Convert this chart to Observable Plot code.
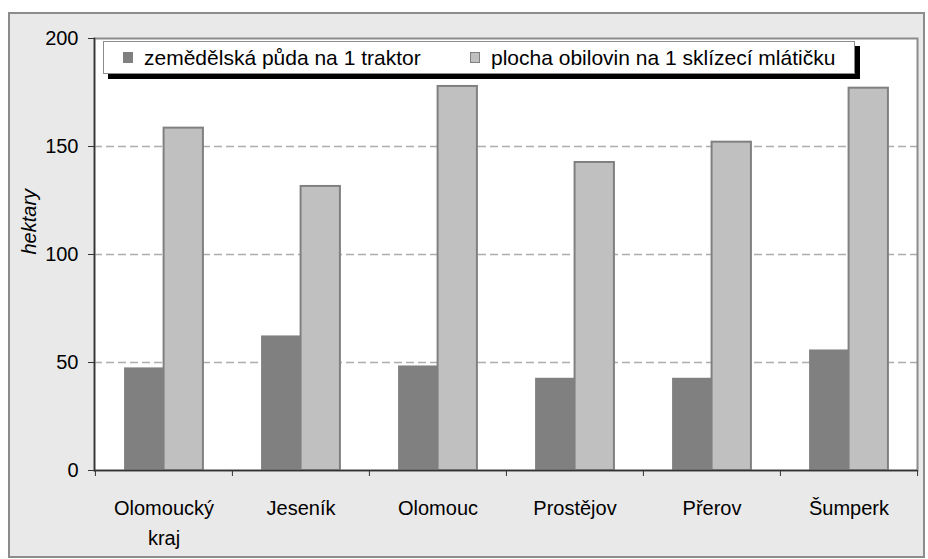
<!DOCTYPE html>
<html>
<head>
<meta charset="utf-8">
<script src="https://cdn.jsdelivr.net/npm/d3@7"></script>
<script src="https://cdn.jsdelivr.net/npm/@observablehq/plot@0.6"></script>
<style>
  html, body { margin: 0; padding: 0; background: #ffffff; }
  body { width: 928px; height: 559px; position: relative; overflow: hidden; font-family: "Liberation Sans", Arial, sans-serif; }
  #box { position: absolute; left: 8px; top: 12px; width: 917px; height: 546px; background: #e9e9e9; border: 2px solid #8c8c8c; box-sizing: border-box; }
  #chart { position: absolute; left: 0; top: 0; }
  #legend { position: absolute; left: 103px; top: 41px; width: 752px; height: 33px; box-sizing: border-box; background: #fff; border: 1px solid #8c8c8c; box-shadow: 5px 5px 0 #000; font-size: 21px; color: #000; }
  .item { position: absolute; top: 0; height: 31px; display: flex; align-items: center; white-space: nowrap; }
  .sw { width: 10px; height: 11px; margin-right: 11px; box-sizing: border-box; }
</style>
</head>
<body>
<div id="box"></div>
<div id="chart"></div>
<div id="legend"></div>
<script>
const categories = ["Olomoucký kraj", "Jeseník", "Olomouc", "Prostějov", "Přerov", "Šumperk"];
const seriesNames = ["zemědělská půda na 1 traktor", "plocha obilovin na 1 sklízecí mlátičku"];
const tractorValues = [47.5, 62.3, 48.4, 42.7, 42.7, 55.8];
const combineValues = [158.5, 131.5, 177.8, 142.6, 152.0, 177.0];
const yTicks = [0, 50, 100, 150, 200];
const yLabel = "hektary";

const tractorData = categories.map((c, i) => ({region: c, value: tractorValues[i]}));
const combineData = categories.map((c, i) => ({region: c, value: combineValues[i]}));

const W = 928, H = 559;
const mL = 94, mR = 11, mT = 38, mB = 89;
const band = (W - mL - mR) / categories.length;
const barW = 39.5;

const plot = Plot.plot({
  width: W,
  height: H,
  marginLeft: mL,
  marginRight: mR,
  marginTop: mT,
  marginBottom: mB,
  style: {background: "transparent", fontFamily: "'Liberation Sans', Arial, sans-serif", fontSize: "20px", color: "#000"},
  x: {domain: categories, padding: 0, axis: null},
  y: {domain: [0, 200], axis: null},
  marks: [
    Plot.frame({fill: "#ffffff", stroke: null}),
    Plot.ruleY([50, 100, 150], {stroke: "#acacac", strokeWidth: 1.5, strokeDasharray: "8,4"}),
    Plot.barY(tractorData, {x: "region", y: "value", fill: "#808080", insetLeft: band / 2 - barW, insetRight: band / 2}),
    Plot.barY(combineData, {x: "region", y: "value", fill: "#c0c0c0", stroke: "#808080", strokeWidth: 2, insetLeft: band / 2, insetRight: band / 2 - barW}),
    Plot.frame({stroke: "#8c8c8c", strokeWidth: 2}),
    Plot.frame({anchor: "left", stroke: "#333", strokeWidth: 1.5}),
    Plot.ruleY([0], {stroke: "#333", strokeWidth: 1.5}),
    Plot.axisY({ticks: yTicks, tickSize: 6, tickPadding: 10, fontSize: 20, label: null, stroke: "#333"}),
    Plot.axisX({tickSize: 6, dx: -band / 2, tickFormat: () => "", label: null, stroke: "#333"}),
    Plot.axisX([categories[categories.length - 1]], {tickSize: 6, dx: band / 2, tickFormat: () => "", label: null, stroke: "#333"}),
    Plot.axisX({tickSize: 0, tickPadding: 23, fontSize: 20, lineHeight: 1.5, label: null, tickFormat: d => d.replace(" ", "\n")}),
    Plot.text([yLabel], {frameAnchor: "left", dx: -65, rotate: -90, fontStyle: "italic", fontSize: 20, fill: "#000"})
  ]
});
document.getElementById("chart").appendChild(plot);

const legend = document.getElementById("legend");
const swatches = [
  {name: seriesNames[0], fill: "#808080", stroke: "#808080", left: 19},
  {name: seriesNames[1], fill: "#c0c0c0", stroke: "#808080", left: 366}
];
swatches.forEach(s => {
  const item = document.createElement("div");
  item.className = "item";
  item.style.left = s.left + "px";
  const sw = document.createElement("span");
  sw.className = "sw";
  sw.style.background = s.fill;
  sw.style.border = "1px solid " + s.stroke;
  const t = document.createElement("span");
  t.textContent = s.name;
  item.appendChild(sw);
  item.appendChild(t);
  legend.appendChild(item);
});
</script>
</body>
</html>
